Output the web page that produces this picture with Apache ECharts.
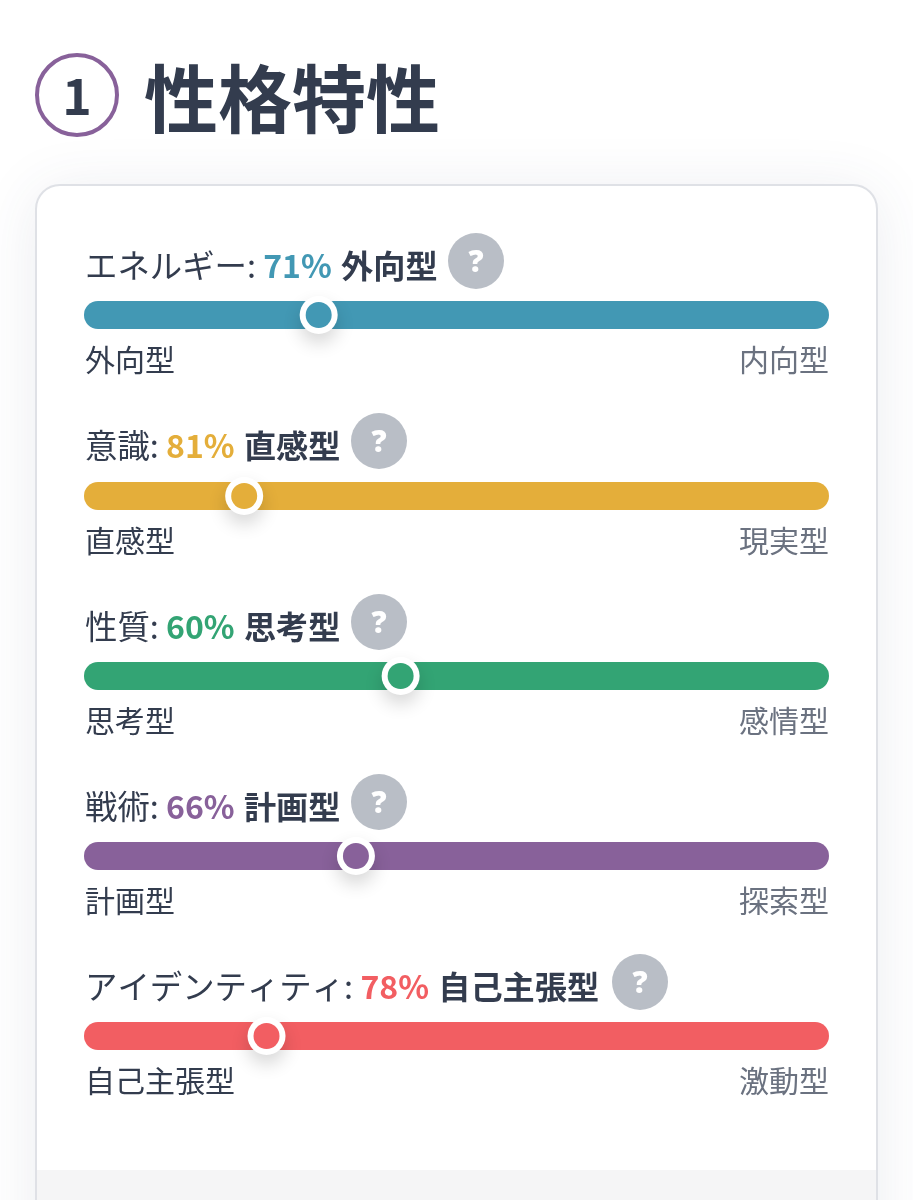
<!DOCTYPE html>
<html><head><meta charset="utf-8">
<style>html,body{margin:0;padding:0;background:#fff}#c{width:913px;height:1200px}</style>
<script src="https://cdn.jsdelivr.net/npm/echarts@6/dist/echarts.min.js"></script>
</head><body><div id="c"></div>
<script>
const sectionNumber = '1';
const sectionTitle = '性格特性';
const traits = ['エネルギー', '意識', '性質', '戦術', 'アイデンティティ'];
const percents = [71, 81, 60, 66, 78];
const dominant = ['外向型', '直感型', '思考型', '計画型', '自己主張型'];
const leftLabels = ['外向型', '直感型', '思考型', '計画型', '自己主張型'];
const rightLabels = ['内向型', '現実型', '感情型', '探索型', '激動型'];
const markerPositions = [31.5, 21.5, 42.5, 36.5, 24.5];
const trackValues = [100, 100, 100, 100, 100];
const colors = ['#4298b4', '#e4ae3a', '#33a474', '#88619a', '#f25e62'];

const FONT = '"Noto Sans CJK JP","Noto Sans",sans-serif';
const INK = '#333c4e', MUTED = '#6b7280';
const barTops = [301, 482, 662, 842, 1022];
const helpX = [476, 379, 379, 379, 640];
const helpY = [261, 441, 622, 802, 982];
const BAR_L = 84, BAR_W = 745, BAR_H = 28;

const grids = [], xAxes = [], yAxes = [], series = [];
const graphic = [
  {type:'rect', silent:true, z:-10, shape:{x:36,y:185,width:841,height:1100,r:24},
   style:{fill:'#fff',stroke:'#dfe1e6',lineWidth:2,shadowBlur:60,shadowColor:'rgba(60,70,110,0.10)',shadowOffsetY:6}},
  {type:'rect', silent:true, z:-9, shape:{x:37,y:1170,width:839,height:40}, style:{fill:'#f5f5f6'}},
  {type:'circle', silent:true, shape:{cx:77,cy:95,r:40}, style:{fill:'#fff',stroke:'#88619a',lineWidth:4}},
  {type:'text', silent:true, style:{x:77,y:96,text:sectionNumber,align:'center',verticalAlign:'middle',
    font:'700 50px '+FONT,fill:INK}},
  {type:'text', silent:true, style:{x:144,y:99,text:sectionTitle,align:'left',verticalAlign:'middle',
    font:'700 74px '+FONT,fill:INK}}
];

traits.forEach((t,i)=>{
  grids.push({left:BAR_L,top:barTops[i],width:BAR_W,height:BAR_H});
  xAxes.push({gridIndex:i,type:'value',min:0,max:100,show:false});
  yAxes.push({gridIndex:i,type:'category',data:[t],show:false});
  series.push({type:'bar',xAxisIndex:i,yAxisIndex:i,data:[trackValues[i]],barWidth:BAR_H,
    itemStyle:{color:colors[i],borderRadius:14},silent:true,z:2});
  series.push({type:'scatter',xAxisIndex:i,yAxisIndex:i,data:[[markerPositions[i],t]],clip:false,
    symbol:'circle',symbolSize:38,silent:true,z:3,
    itemStyle:{color:'#fff',opacity:1,shadowBlur:18,shadowOffsetY:9,shadowColor:'rgba(0,0,0,0.16)'}});
  series.push({type:'scatter',xAxisIndex:i,yAxisIndex:i,data:[[markerPositions[i],t]],clip:false,
    symbol:'circle',symbolSize:26,silent:true,z:4,itemStyle:{color:colors[i],opacity:1}});
  graphic.push({type:'text',silent:true,style:{x:85,y:helpY[i]+5,verticalAlign:'middle',align:'left',
    text:`{a|${t}: }{b|${percents[i]}% }{c|${dominant[i]}}`,
    rich:{a:{fontFamily:FONT,fontSize:32.4,fontWeight:400,fill:INK},
          b:{fontFamily:FONT,fontSize:32,fontWeight:700,fill:colors[i],padding:[0,2,0,0]},
          c:{fontFamily:FONT,fontSize:32.2,fontWeight:700,fill:INK}}}});
  graphic.push({type:'circle',silent:true,shape:{cx:helpX[i],cy:helpY[i],r:28},style:{fill:'#b9bec6'}});
  graphic.push({type:'text',silent:true,style:{x:helpX[i],y:helpY[i]+2,text:'?',align:'center',verticalAlign:'middle',
    font:'800 30px "Open Sans","Noto Sans",sans-serif',fill:'#fff'}});
  graphic.push({type:'text',silent:true,style:{x:85,y:barTops[i]+59,text:leftLabels[i],align:'left',verticalAlign:'middle',
    font:'400 30px '+FONT,fill:INK}});
  graphic.push({type:'text',silent:true,style:{x:829,y:barTops[i]+59,text:rightLabels[i],align:'right',verticalAlign:'middle',
    font:'400 30px '+FONT,fill:MUTED}});
});

const chart = echarts.init(document.getElementById('c'));
chart.setOption({animation:false,backgroundColor:'#fff',grid:grids,xAxis:xAxes,yAxis:yAxes,series,graphic});
</script></body></html>
